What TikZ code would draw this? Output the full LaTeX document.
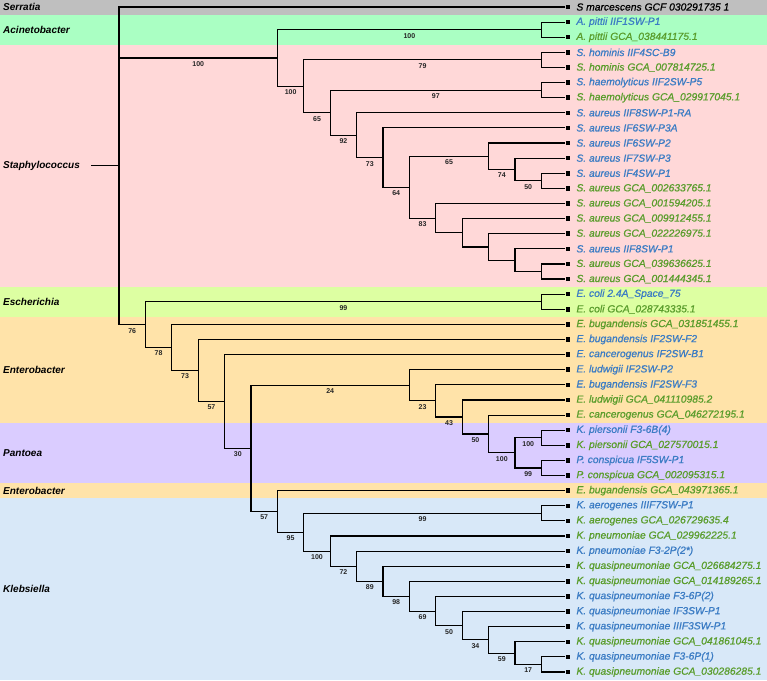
\documentclass[tikz,border=0pt]{standalone}
\usepackage{fontspec}
\setmainfont{Liberation Sans}
\newfontfamily\leaffont{Liberation Sans}[FakeBold=0.8]
\usepackage{tikz}
\usetikzlibrary{calc}

\definecolor{bandgray}{HTML}{BFBFBF}
\definecolor{bandmint}{HTML}{AAFFC3}
\definecolor{bandpink}{HTML}{FFD8D8}
\definecolor{bandlime}{HTML}{DDFFA2}
\definecolor{bandsand}{HTML}{FFE3A9}
\definecolor{bandlilac}{HTML}{DACCFF}
\definecolor{bandsky}{HTML}{D8E8F8}
\definecolor{isoblue}{HTML}{3B7CC4}
\definecolor{refgreen}{HTML}{5A9D2C}

\tikzset{
  branch/.style={line width=1.15pt, black},
  tipmark/.style={fill=black, inner sep=0pt, minimum size=4.5pt},
  taxon/.style={anchor=west, inner sep=0pt, font=\leaffont\fontsize{10.3}{12}\selectfont\itshape\addfontfeature{FakeBold=0.8}},
  iso/.style={label={[taxon, text=isoblue, label distance=6pt]right:#1}},
  ref/.style={label={[taxon, text=refgreen, label distance=6pt]right:#1}},
  out/.style={label={[taxon, text=black, label distance=6pt]right:#1}},
  boot/.style={pos=#1, below=2pt, inner sep=1pt, text=black!85, font=\fontsize{7}{8}\selectfont\bfseries},
  boot/.default=0.75,
  clade/.style={anchor=west, inner sep=0pt, font=\fontsize{10}{12}\selectfont\bfseries\itshape},
}

\begin{document}
\begin{tikzpicture}[x=1pt, y=-1pt]
        \useasboundingbox (0,0) rectangle (767,680);
        % genus bands
        \fill[bandgray] (0,0) rectangle (767,14.6);
        \fill[bandmint] (0,14.6) rectangle (767,44.8);
        \fill[bandpink] (0,44.8) rectangle (767,286.6);
        \fill[bandlime] (0,286.6) rectangle (767,316.8);
        \fill[bandsand] (0,316.8) rectangle (767,422.6);
        \fill[bandlilac] (0,422.6) rectangle (767,483.1);
        \fill[bandsand] (0,483.1) rectangle (767,498.2);
        \fill[bandsky] (0,498.2) rectangle (767,680);
        \node[clade] (gser) at (3,7) {Serratia};
        \node[clade] (gaci) at (3,29.7) {Acinetobacter};
        \node[clade] (gsta) at (3,165.7) {Staphylococcus};
        \node[clade] (gesc) at (3,301.7) {Escherichia};
        \node[clade] (gent) at (3,369.7) {Enterobacter};
        \node[clade] (gpan) at (3,452.8) {Pantoea};
        \node[clade] (gent2) at (3,490.7) {Enterobacter};
        \node[clade] (gkle) at (3,589.1) {Klebsiella};

        \begin{scope}[x=26.4pt, y=-15.114pt, shift={(119pt,-7pt)}]
        % tips
        \node[tipmark, out={S marcescens GCF 030291735 1}] (l0) at (17,0) {};
        \node[tipmark, iso={A. pittii IIF1SW-P1}] (l1) at (17,1) {};
        \node[tipmark, ref={A. pittii GCA\_038441175.1}] (l2) at (17,2) {};
        \node[tipmark, iso={S. hominis IIF4SC-B9}] (l3) at (17,3) {};
        \node[tipmark, ref={S. hominis GCA\_007814725.1}] (l4) at (17,4) {};
        \node[tipmark, iso={S. haemolyticus IIF2SW-P5}] (l5) at (17,5) {};
        \node[tipmark, ref={S. haemolyticus GCA\_029917045.1}] (l6) at (17,6) {};
        \node[tipmark, iso={S. aureus IIF8SW-P1-RA}] (l7) at (17,7) {};
        \node[tipmark, iso={S. aureus IF6SW-P3A}] (l8) at (17,8) {};
        \node[tipmark, iso={S. aureus IF6SW-P2}] (l9) at (17,9) {};
        \node[tipmark, iso={S. aureus IF7SW-P3}] (l10) at (17,10) {};
        \node[tipmark, iso={S. aureus IF4SW-P1}] (l11) at (17,11) {};
        \node[tipmark, ref={S. aureus GCA\_002633765.1}] (l12) at (17,12) {};
        \node[tipmark, ref={S. aureus GCA\_001594205.1}] (l13) at (17,13) {};
        \node[tipmark, ref={S. aureus GCA\_009912455.1}] (l14) at (17,14) {};
        \node[tipmark, ref={S. aureus GCA\_022226975.1}] (l15) at (17,15) {};
        \node[tipmark, iso={S. aureus IIF8SW-P1}] (l16) at (17,16) {};
        \node[tipmark, ref={S. aureus GCA\_039636625.1}] (l17) at (17,17) {};
        \node[tipmark, ref={S. aureus GCA\_001444345.1}] (l18) at (17,18) {};
        \node[tipmark, iso={E. coli 2.4A\_Space\_75}] (l19) at (17,19) {};
        \node[tipmark, ref={E. coli GCA\_028743335.1}] (l20) at (17,20) {};
        \node[tipmark, ref={E. bugandensis GCA\_031851455.1}] (l21) at (17,21) {};
        \node[tipmark, iso={E. bugandensis IF2SW-F2}] (l22) at (17,22) {};
        \node[tipmark, iso={E. cancerogenus IF2SW-B1}] (l23) at (17,23) {};
        \node[tipmark, iso={E. ludwigii IF2SW-P2}] (l24) at (17,24) {};
        \node[tipmark, iso={E. bugandensis IF2SW-F3}] (l25) at (17,25) {};
        \node[tipmark, ref={E. ludwigii GCA\_041110985.2}] (l26) at (17,26) {};
        \node[tipmark, ref={E. cancerogenus GCA\_046272195.1}] (l27) at (17,27) {};
        \node[tipmark, iso={K. piersonii F3-6B(4)}] (l28) at (17,28) {};
        \node[tipmark, ref={K. piersonii GCA\_027570015.1}] (l29) at (17,29) {};
        \node[tipmark, iso={P. conspicua IF5SW-P1}] (l30) at (17,30) {};
        \node[tipmark, ref={P. conspicua GCA\_002095315.1}] (l31) at (17,31) {};
        \node[tipmark, ref={E. bugandensis GCA\_043971365.1}] (l32) at (17,32) {};
        \node[tipmark, iso={K. aerogenes IIIF7SW-P1}] (l33) at (17,33) {};
        \node[tipmark, ref={K. aerogenes GCA\_026729635.4}] (l34) at (17,34) {};
        \node[tipmark, ref={K. pneumoniae GCA\_029962225.1}] (l35) at (17,35) {};
        \node[tipmark, iso={K. pneumoniae F3-2P(2*)}] (l36) at (17,36) {};
        \node[tipmark, ref={K. quasipneumoniae GCA\_026684275.1}] (l37) at (17,37) {};
        \node[tipmark, ref={K. quasipneumoniae GCA\_014189265.1}] (l38) at (17,38) {};
        \node[tipmark, iso={K. quasipneumoniae F3-6P(2)}] (l39) at (17,39) {};
        \node[tipmark, iso={K. quasipneumoniae IF3SW-P1}] (l40) at (17,40) {};
        \node[tipmark, iso={K. quasipneumoniae IIIF3SW-P1}] (l41) at (17,41) {};
        \node[tipmark, ref={K. quasipneumoniae GCA\_041861045.1}] (l42) at (17,42) {};
        \node[tipmark, iso={K. quasipneumoniae F3-6P(1)}] (l43) at (17,43) {};
        \node[tipmark, ref={K. quasipneumoniae GCA\_030286285.1}] (l44) at (17,44) {};

        % inner nodes, Acinetobacter + Staphylococcus
        \coordinate (stem) at (-1.06,10.50634);
        \coordinate (root) at (0,10.50634);
        \coordinate (acst) at (6,3.372559);
        \coordinate (acin) at (16,1.5);
        \coordinate (st) at (7,5.245117);
        \coordinate (hom) at (16,3.5);
        \coordinate (s8) at (8,6.990234);
        \coordinate (haem) at (16,5.5);
        \coordinate (s9) at (9,8.480469);
        \coordinate (s10) at (10,9.960938);
        \coordinate (s11) at (11,11.921875);
        \coordinate (s14a) at (14,9.875);
        \coordinate (s15a) at (15,10.75);
        \coordinate (s16a) at (16,11.5);
        \coordinate (s12) at (12,13.96875);
        \coordinate (s13) at (13,14.9375);
        \coordinate (s14b) at (14,15.875);
        \coordinate (s15b) at (15,16.75);
        \coordinate (s16b) at (16,17.5);
        % inner nodes, Enterobacterales
        \coordinate (e1) at (1,21.01268);
        \coordinate (eco) at (16,19.5);
        \coordinate (e2) at (2,22.52536);
        \coordinate (e3) at (3,24.05072);
        \coordinate (e4) at (4,26.10144);
        \coordinate (e5) at (5,29.202881);
        \coordinate (en11) at (11,25.03125);
        \coordinate (en12) at (12,26.0625);
        \coordinate (en13) at (13,27.125);
        \coordinate (en14) at (14,28.25);
        \coordinate (en15) at (15,29.5);
        \coordinate (kpi) at (16,28.5);
        \coordinate (pco) at (16,30.5);
        \coordinate (k6) at (6,33.374512);
        \coordinate (k7) at (7,34.749023);
        \coordinate (kae) at (16,33.5);
        \coordinate (k8) at (8,35.998047);
        \coordinate (k9) at (9,36.996094);
        \coordinate (k10) at (10,37.992188);
        \coordinate (k11) at (11,38.984375);
        \coordinate (k12) at (12,39.96875);
        \coordinate (k13) at (13,40.9375);
        \coordinate (k14) at (14,41.875);
        \coordinate (k15) at (15,42.75);
        \coordinate (kqp) at (16,43.5);

        % one path per inner node: first child -| node |- last child
        \draw[branch] (stem) -- (root);
        \draw[branch] (l0) -| (root) |- node[boot] {76} (e1);
        \draw[branch] (root |- acst) -- node[boot=0.5] {100} (acst);
        % Acinetobacter + Staphylococcus
        \draw[branch] (acin) -| node[boot=0.25] {100} (acst) |- node[boot] {100} (st);
        \draw[branch] (l1) -| (acin) |- (l2);
        \draw[branch] (hom) -| node[boot=0.25] {79} (st) |- node[boot] {65} (s8);
        \draw[branch] (l3) -| (hom) |- (l4);
        \draw[branch] (haem) -| node[boot=0.25] {97} (s8) |- node[boot] {92} (s9);
        \draw[branch] (l5) -| (haem) |- (l6);
        \draw[branch] (l7) -| (s9) |- node[boot] {73} (s10);
        \draw[branch] (l8) -| (s10) |- node[boot] {64} (s11);
        \draw[branch] (s14a) -| node[boot=0.25] {65} (s11) |- node[boot] {83} (s12);
        \draw[branch] (l9) -| (s14a) |- node[boot] {74} (s15a);
        \draw[branch] (l10) -| (s15a) |- node[boot] {50} (s16a);
        \draw[branch] (l11) -| (s16a) |- (l12);
        \draw[branch] (l13) -| (s12) |- (s13);
        \draw[branch] (l14) -| (s13) |- (s14b);
        \draw[branch] (l15) -| (s14b) |- (s15b);
        \draw[branch] (l16) -| (s15b) |- (s16b);
        \draw[branch] (l17) -| (s16b) |- (l18);
        % Enterobacterales
        \draw[branch] (eco) -| node[boot=0.25] {99} (e1) |- node[boot] {78} (e2);
        \draw[branch] (l19) -| (eco) |- (l20);
        \draw[branch] (l21) -| (e2) |- node[boot] {73} (e3);
        \draw[branch] (l22) -| (e3) |- node[boot] {57} (e4);
        \draw[branch] (l23) -| (e4) |- node[boot] {30} (e5);
        \draw[branch] (en11) -| node[boot=0.25] {24} (e5) |- node[boot] {57} (k6);
        \draw[branch] (l24) -| (en11) |- node[boot] {23} (en12);
        \draw[branch] (l25) -| (en12) |- node[boot] {43} (en13);
        \draw[branch] (l26) -| (en13) |- node[boot] {50} (en14);
        \draw[branch] (l27) -| (en14) |- node[boot] {100} (en15);
        \draw[branch] (kpi) -| node[boot=0.25] {100} (en15) |- node[boot] {99} (pco);
        \draw[branch] (l28) -| (kpi) |- (l29);
        \draw[branch] (l30) -| (pco) |- (l31);
        \draw[branch] (l32) -| (k6) |- node[boot] {95} (k7);
        \draw[branch] (kae) -| node[boot=0.25] {99} (k7) |- node[boot] {100} (k8);
        \draw[branch] (l33) -| (kae) |- (l34);
        \draw[branch] (l35) -| (k8) |- node[boot] {72} (k9);
        \draw[branch] (l36) -| (k9) |- node[boot] {89} (k10);
        \draw[branch] (l37) -| (k10) |- node[boot] {98} (k11);
        \draw[branch] (l38) -| (k11) |- node[boot] {69} (k12);
        \draw[branch] (l39) -| (k12) |- node[boot] {50} (k13);
        \draw[branch] (l40) -| (k13) |- node[boot] {34} (k14);
        \draw[branch] (l41) -| (k14) |- node[boot] {59} (k15);
        \draw[branch] (l42) -| (k15) |- node[boot] {17} (kqp);
        \draw[branch] (l43) -| (kqp) |- (l44);
        \end{scope}
    \end{tikzpicture}
\end{document}
